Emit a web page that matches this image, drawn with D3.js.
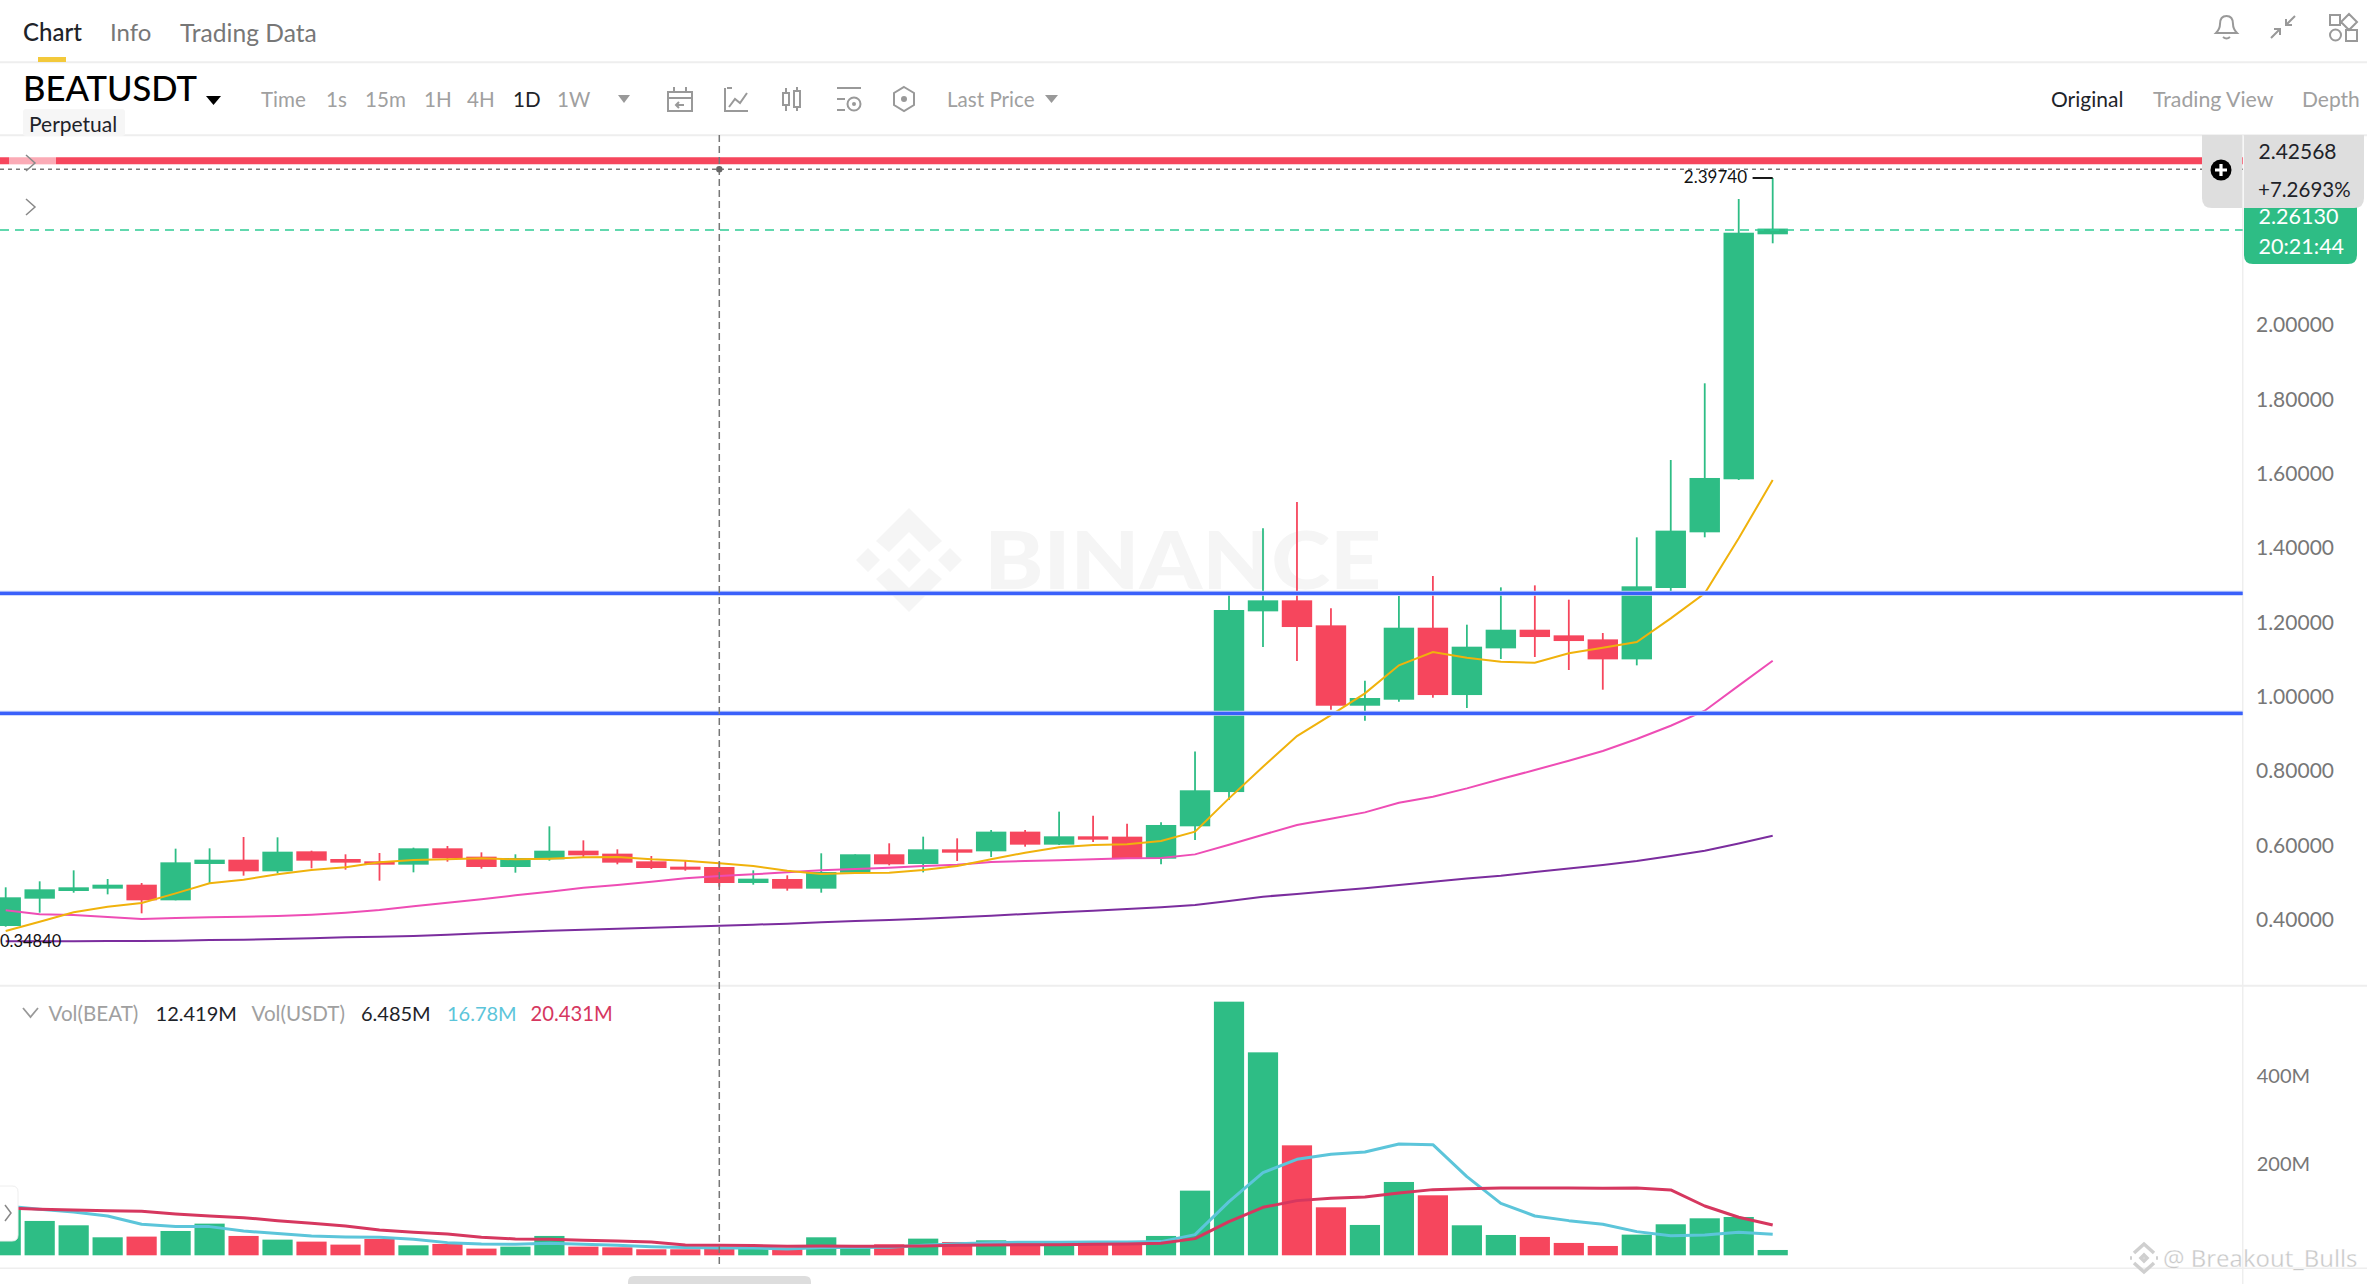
<!DOCTYPE html>
<html><head><meta charset="utf-8">
<script src="https://cdn.jsdelivr.net/npm/d3@7"></script>
<style>
html,body{margin:0;padding:0;background:#fff;overflow:hidden}
svg{display:block}
text{font-family:Lato,"Noto Sans",sans-serif}
</style></head><body>
<script>
const opens=[.3849,.4585,.4791,.4854,.4961,.4540,.5518,.5634,.5320,.5858,.5652,.5589,.5500,.5939,.5715,.5437,.5643,.5876,.5796,.5589,.5446,.5437,.5006,.5114,.4854,.5284,.5778,.5518,.5912,.5858,.6388,.6038,.6262,.6253,.5661,.6531,.7453,1.2315,1.2611,1.1938,.9776,.9938,1.1875,1.0063,1.1319,1.1821,1.1669,1.1561,1.1023,1.2943,1.4441,1.5868,2.2459];
const closes=[.4621,.4836,.4890,.4961,.4540,.5562,.5634,.5320,.5849,.5607,.5554,.5500,.5939,.5670,.5437,.5679,.5876,.5751,.5554,.5410,.5365,.5006,.5123,.4854,.5302,.5778,.5509,.5912,.5822,.6388,.6038,.6262,.6172,.5661,.6567,.7500,1.2351,1.2611,1.1893,.9776,.9983,1.1875,1.0063,1.1364,1.1821,1.1624,1.1516,1.1023,1.2988,1.4486,1.5903,2.2502,2.2613];
const highs=[.4890,.5051,.5347,.5114,.5006,.5930,.5939,.6244,.6235,.5876,.5778,.5814,.5957,.6002,.5831,.5778,.6531,.6154,.5912,.5733,.5616,.5580,.5347,.5213,.5805,.5778,.6074,.6253,.6208,.6432,.6432,.6926,.6818,.6603,.6639,.8547,1.2754,1.4548,1.5257,1.2396,1.0449,1.2727,1.3266,1.1956,1.2961,1.3014,1.2629,1.1732,1.4306,1.6387,1.8450,2.3409,2.3974];
const lows=[.3831,.4208,.4746,.4701,.4190,.4540,.4997,.5204,.5266,.5401,.5365,.5069,.5293,.5580,.5392,.5284,.5607,.5706,.5509,.5383,.5338,.4908,.4961,.4800,.4746,.5284,.5482,.5293,.5598,.5706,.5984,.6029,.6110,.5661,.5509,.6163,.7238,1.1355,1.0978,.9669,.9373,.9884,.9991,.9714,1.1032,1.1086,1.0736,1.0207,1.0862,1.2844,1.4307,1.5850,2.2217];
const ma7=[.3715,.3966,.4217,.4369,.4468,.4728,.4997,.5096,.5240,.5356,.5428,.5562,.5625,.5643,.5670,.5643,.5661,.5697,.5706,.5643,.5607,.5536,.5464,.5338,.5249,.5275,.5284,.5356,.5464,.5643,.5822,.5966,.6029,.6047,.6136,.6388,.7283,.8135,.8960,.9525,1.0108,1.0862,1.1220,1.1068,1.0960,1.0933,1.1185,1.1337,1.1490,1.2126,1.2799,1.4279,1.5849];
const ma25=[.4271,.4163,.4145,.4091,.4037,.4064,.4082,.4100,.4118,.4154,.4208,.4280,.4378,.4477,.4567,.4674,.4773,.4881,.4952,.5042,.5132,.5195,.5240,.5293,.5347,.5383,.5419,.5464,.5500,.5571,.5598,.5616,.5643,.5670,.5679,.5776,.6036,.6305,.6565,.6736,.6906,.7166,.7328,.7552,.7803,.8045,.8296,.8556,.8879,.9238,.9642,1.0315,1.0987];
const ma99=[.3437,.3437,.3437,.3446,.3446,.3455,.3472,.3481,.3499,.3517,.3544,.3562,.3580,.3616,.3652,.3688,.3724,.3750,.3777,.3804,.3831,.3858,.3885,.3912,.3948,.3984,.4011,.4046,.4082,.4127,.4172,.4217,.4262,.4307,.4351,.4414,.4522,.4638,.4711,.4792,.4864,.4953,.5042,.5130,.5202,.5300,.5399,.5489,.5596,.5731,.5874,.6071,.6278];
const volumes=[102.3,69.8,59.9,32.6,34.2,47.0,63.7,35.7,27.3,22.8,16.0,28.8,14.4,17.5,6.9,11.4,35.7,11.4,9.9,5.4,5.4,6.9,9.9,5.4,32.6,11.4,16.7,29.6,22.0,25.8,22.0,22.0,22.0,22.0,35.7,138.7,568.3,453.1,241.7,100.8,60.7,158.4,128.1,59.9,37.9,33.4,19.8,12.9,38.7,62.2,75.8,78.8,3.8];
const volMaFast=[103.8,96.3,90.2,81.1,62.2,56.9,56.9,47.0,41.0,35.7,33.4,32.6,28.1,20.5,17.5,16.7,19.0,16.7,14.4,11.4,9.2,8.4,8.4,6.1,9.2,9.2,9.9,14.4,18.2,20.5,21.3,21.3,22.0,22.0,22.8,38.7,113.7,179.6,209.9,221.3,226.6,244.8,243.2,170.5,109.9,81.1,70.5,62.2,45.5,36.4,37.9,44.0,39.4];
const volMaSlow=[99.3,96.3,94.8,93.2,91.7,85.7,81.1,77.3,70.5,64.4,58.4,49.3,44.0,40.2,32.6,28.8,28.1,25.8,24.3,22.0,15.2,14.4,13.7,12.2,12.9,12.2,12.2,12.9,14.4,15.2,15.9,15.9,16.7,17.5,19.0,29.6,68.2,100.8,116.0,121.3,124.3,133.4,141.0,143.2,144.8,144.8,144.8,144.0,144.8,140.2,103.8,78.1,60.7];
const priceTicks=[2.0,1.8,1.6,1.4,1.2,1.0,0.8,0.6,0.4];
const volTicks=[400,200];
const redLevel=2.4439, blueLevels=[1.2799,0.9570], crosshairLevel=2.4208, lastLevel=2.2575, periodHigh=2.3974, periodLow=0.3484;
const volFloor=-8.3;

const W=2367,H=1284,axisX=2242.7,crossX=719.3;
const GREEN="#2EBD85",RED="#F6465D";
const svg=d3.select("body").append("svg").attr("width",W).attr("height",H).attr("viewBox",`0 0 ${W} ${H}`);
const x=d3.scaleLinear().domain([0,52]).range([5.7,1772.7]);
const y=d3.scaleLinear().domain([0.4,2]).range([920.4,325.7]);
const yv=d3.scaleLinear().domain([volFloor,400]).range([1255.3,1075.7]);
const idx=d3.range(opens.length);
const bodyW=30.4, volW=30.2;
const color=i=>closes[i]>=opens[i]?GREEN:RED;
const T=(g,tx,ty,s,size,fill,anchor,weight)=>g.append("text").attr("x",tx).attr("y",ty).attr("dy",".35em").attr("font-size",size).attr("fill",fill).attr("text-anchor",anchor||"start").attr("font-weight",weight||400).text(s);

// frame lines
const frame=svg.append("g");
[[62.3,2],[135.3,2],[985.7,2],[1268.3,1.5]].forEach(([ly,w])=>frame.append("line").attr("x1",0).attr("x2",W).attr("y1",ly).attr("y2",ly).attr("stroke","#EEEEEE").attr("stroke-width",w));
frame.append("line").attr("x1",axisX).attr("x2",axisX).attr("y1",135).attr("y2",H).attr("stroke","#EEEEEE").attr("stroke-width",1.5);

// watermark
const wm=svg.append("g");
wm.append("text").attr("x",984.3).attr("y",589.3).attr("font-size",80).attr("font-weight",900).attr("fill","#F5F5F5").attr("textLength",397).attr("lengthAdjust","spacingAndGlyphs").text("BINANCE");
const wmLogo=wm.append("g").attr("transform","translate(909,560)").attr("fill","#F5F5F5");
wmLogo.append("path").attr("d","M0,-52 L33,-19 L20,-8 L0,-28 L-20,-8 L-33,-19Z");
wmLogo.append("path").attr("d","M0,52 L33,19 L20,8 L0,28 L-20,8 L-33,19Z");
wmLogo.append("path").attr("d","M0,-12 L12,0 L0,12 L-12,0Z M-41,-12 L-29,0 L-41,12 L-53,0Z M41,-12 L53,0 L41,12 L29,0Z");

// candles
const candles=svg.append("g");
candles.selectAll("line").data(idx).join("line")
 .attr("x1",i=>x(i)).attr("x2",i=>x(i)).attr("y1",i=>y(highs[i])).attr("y2",i=>y(lows[i]))
 .attr("stroke",color).attr("stroke-width",1.8);
candles.selectAll("rect").data(idx).join("rect")
 .attr("x",i=>x(i)-bodyW/2).attr("width",bodyW)
 .attr("y",i=>y(Math.max(opens[i],closes[i]))).attr("height",i=>Math.max(1.5,Math.abs(y(opens[i])-y(closes[i]))))
 .attr("fill",color);

// moving averages
const ln=(arr,sc)=>d3.line().x((d,i)=>x(i)).y(d=>sc(d))(arr);
const maG=svg.append("g").attr("fill","none");
maG.append("path").attr("d",ln(ma99,y)).attr("stroke","#7B2D9E").attr("stroke-width",2);
maG.append("path").attr("d",ln(ma25,y)).attr("stroke","#EE4DB5").attr("stroke-width",2);
maG.append("path").attr("d",ln(ma7,y)).attr("stroke","#F0B20C").attr("stroke-width",2);

// volume
const vols=svg.append("g");
vols.selectAll("rect").data(idx).join("rect")
 .attr("x",i=>x(i)-volW/2).attr("width",volW)
 .attr("y",i=>yv(volumes[i])).attr("height",i=>yv(volFloor)-yv(volumes[i]))
 .attr("fill",color);
const vl=svg.append("g").attr("fill","none").attr("stroke-linejoin","round");
vl.append("path").attr("d",ln(volMaFast,yv)).attr("stroke","#5CC5DA").attr("stroke-width",3);
vl.append("path").attr("d",ln(volMaSlow,yv)).attr("stroke","#D6375F").attr("stroke-width",3);

// levels
const lv=svg.append("g");
lv.append("line").attr("x1",0).attr("x2",axisX).attr("y1",y(redLevel)).attr("y2",y(redLevel)).attr("stroke",RED).attr("stroke-width",7);
lv.append("rect").attr("x",9).attr("y",y(redLevel)-4).attr("width",47).attr("height",8).attr("fill","#fff").attr("opacity",.55);
blueLevels.forEach(b=>{
  lv.append("line").attr("x1",0).attr("x2",axisX).attr("y1",y(b)).attr("y2",y(b)).attr("stroke","#BFCDFB").attr("stroke-width",5);
  lv.append("line").attr("x1",0).attr("x2",axisX).attr("y1",y(b)).attr("y2",y(b)).attr("stroke","#3A60FA").attr("stroke-width",3.4);
});
lv.append("line").attr("x1",0).attr("x2",axisX).attr("y1",y(lastLevel)).attr("y2",y(lastLevel)).attr("stroke","#2ECB94").attr("stroke-width",1.5).attr("stroke-dasharray","9,6");
lv.append("line").attr("x1",0).attr("x2",axisX).attr("y1",y(crosshairLevel)).attr("y2",y(crosshairLevel)).attr("stroke","#777").attr("stroke-width",1.5).attr("stroke-dasharray","4,4");
lv.append("line").attr("x1",crossX).attr("x2",crossX).attr("y1",135).attr("y2",1268).attr("stroke","#777").attr("stroke-width",1.5).attr("stroke-dasharray","7,4");
lv.append("circle").attr("cx",crossX).attr("cy",y(crosshairLevel)).attr("r",3.2).attr("fill","#666");

// extreme labels
const ex=svg.append("g");
T(ex,1747,177,"2.39740",17,"#111","end");
ex.append("line").attr("x1",1752.6).attr("x2",x(52)).attr("y1",y(periodHigh)).attr("y2",y(periodHigh)).attr("stroke","#000").attr("stroke-width",1.8);
T(ex,0,941,"0.34840",16.5,"#111");

// axes (d3 axis, styled)
const axP=svg.append("g").attr("transform",`translate(2334,-0.5)`).call(d3.axisRight(y).tickValues(priceTicks).tickSize(0).tickPadding(0).tickFormat(d3.format(".5f")));
axP.select(".domain").remove();
axP.selectAll("text").attr("x",0).attr("text-anchor","end").attr("font-size",21).attr("fill","#777").style("font-family","Lato,sans-serif");
const axV=svg.append("g").attr("transform",`translate(2256.7,0)`).call(d3.axisRight(yv).tickValues(volTicks).tickSize(0).tickPadding(0).tickFormat(d=>d+"M"));
axV.select(".domain").remove();
axV.selectAll("text").attr("x",0).attr("font-size",20).attr("fill","#777").style("font-family","Lato,sans-serif");

// left handles
const h=svg.append("g");
[163,207].forEach(cy=>h.append("path").attr("d",`M26,${cy-8} L35,${cy} L26,${cy+8}`).attr("fill","none").attr("stroke","#888").attr("stroke-width",1.5));
h.append("path").attr("d","M-4,1186 H12 Q18,1186 18,1192 V1235 Q18,1241 12,1241 H-4Z").attr("fill","#fff").attr("stroke","#eee");
h.append("path").attr("d","M5,1205 L11,1213 L5,1221").attr("fill","none").attr("stroke","#888").attr("stroke-width",1.5);
h.append("path").attr("d","M628,1284 V1282 Q628,1276 634,1276 H805 Q811,1276 811,1282 V1284Z").attr("fill","#DDDDDD");

// tooltip and price label
const tip=svg.append("g");
tip.append("path").attr("d","M2244,200 H2357 V255 Q2357,264 2348,264 H2253 Q2244,264 2244,255Z").attr("fill",GREEN);
T(tip,2258.5,216.7,"2.26130",21.5,"#fff");
T(tip,2258.5,246.7,"20:21:44",21.5,"#fff");
tip.append("path").attr("d","M2202,135 H2242 V208 H2212 Q2202,208 2202,198Z").attr("fill","#DEDEDE");
tip.append("path").attr("d","M2244,135 H2364 V198 Q2364,208 2354,208 H2244Z").attr("fill","#DEDEDE");
T(tip,2258.5,152,"2.42568",21,"#1E2329");
T(tip,2258,190,"+7.2693%",20.5,"#1E2329");
tip.append("circle").attr("cx",2221).attr("cy",170).attr("r",10.5).attr("fill","#000");
tip.append("path").attr("d","M2221,164 V176 M2215,170 H2227").attr("stroke","#fff").attr("stroke-width",3.2);

// header
const hd=svg.append("g");
T(hd,23,33,"Chart",24,"#1E2329","start",500);
T(hd,110,33,"Info",24,"#777");
T(hd,180,33,"Trading Data",24.6,"#777");
hd.append("rect").attr("x",38).attr("y",57).attr("width",28).attr("height",5).attr("fill","#F3C93B");
T(hd,23,89,"BEATUSDT",34.6,"#000","start",500);
hd.append("path").attr("d","M206,96 H221 L213.5,105Z").attr("fill","#000");
hd.append("rect").attr("x",23).attr("y",109).attr("width",102).attr("height",27).attr("rx",3).attr("fill","#F6F6F6");
T(hd,29,125,"Perpetual",21,"#1E2329");
[["Time",261],["1s",326],["15m",365],["1H",424],["4H",467],["1W",557],["Last Price",947]].forEach(([s,tx])=>T(hd,tx,100,s,20.6,"#A0A0A0"));
T(hd,513,100,"1D",20.6,"#1E2329");
hd.append("path").attr("d","M618,95 H630 L624,103Z M1045,95 H1058 L1051.5,103Z").attr("fill","#999");
const ic=hd.append("g").attr("fill","none").attr("stroke","#999").attr("stroke-width",2);
ic.append("path").attr("d","M668,92 H692 V111 H668Z M668,98 H692 M674,87 V92 M686,87 V92 M684,105 H676 M679,102 L676,105 L679,108");
ic.append("path").attr("d","M725,88 V111 H748 M729,107 L735,99 L740,103 L747,93 M727,88 L732,88");
ic.append("path").attr("d","M783,93 H789 V105 H783Z M794,91 H800 V107 H794Z M786,88 V93 M786,105 V111 M797,87 V91 M797,107 V111");
ic.append("path").attr("d","M837,88 H861 M837,99 H845 M837,110 H845");
ic.append("circle").attr("cx",854).attr("cy",104).attr("r",6.5);
ic.append("path").attr("d","M904,87 L914,93 V105 L904,111 L894,105 V93Z");
hd.append("circle").attr("cx",904).attr("cy",99).attr("r",3).attr("fill","#999");
hd.append("circle").attr("cx",854).attr("cy",104).attr("r",2).attr("fill","#999");
T(hd,2051,100,"Original",21,"#1E2329");
T(hd,2153,100,"Trading View",21.3,"#A0A0A0");
T(hd,2302,100,"Depth",21,"#A0A0A0");
const ic2=hd.append("g").attr("fill","none").attr("stroke","#999").attr("stroke-width",2);
ic2.append("path").attr("d","M2216,33 Q2220,29 2220,24 Q2220,16 2226.5,16 Q2233,16 2233,24 Q2233,29 2237,33Z M2223,37 Q2226.5,40 2230,37");
ic2.append("path").attr("d","M2271,38 L2280,29 M2274,29 H2280 V35 M2295,16 L2286,25 M2286,19 V25 H2292");
ic2.append("path").attr("d","M2330,15 H2340 V25 H2330Z M2349,14 L2357,22 L2349,30 L2341,22Z M2341,35 A 5.5,5.5 0 1 1 2330,35 A 5.5,5.5 0 1 1 2341,35Z M2346,30 H2357 V41 H2346Z");

// legend
const lg=svg.append("g");
lg.append("path").attr("d","M23,1008 L30.5,1017 L38,1008").attr("fill","none").attr("stroke","#999").attr("stroke-width",1.8);
T(lg,48.5,1014,"Vol(BEAT)",20.6,"#A0A0A0");
T(lg,155.6,1014,"12.419M",20,"#1E2329");
T(lg,251.5,1014,"Vol(USDT)",20.6,"#A0A0A0");
T(lg,361,1014,"6.485M",20,"#1E2329");
T(lg,447,1014,"16.78M",20,"#5CC5DA");
T(lg,530.6,1014,"20.431M",20.2,"#D6375F");

// credit
const cr=svg.append("g");
const crLogo=cr.append("g").attr("transform","translate(2144,1258)").attr("fill","none").attr("stroke","#CFCFCF").attr("stroke-width",3.5);
crLogo.append("path").attr("d","M-10,-5 L0,-14 L10,-5 M-10,5 L0,14 L10,5 M-3,0 L0,-3 L3,0 L0,3Z M-14,0 L-12,0 M12,0 L14,0");
T(cr,2163,1259,"@ Breakout_Bulls",24,"#C8C8C8").style("font-family","'Open Sans',sans-serif").attr("stroke","#fff").attr("stroke-width",.3);
</script>
</body></html>
